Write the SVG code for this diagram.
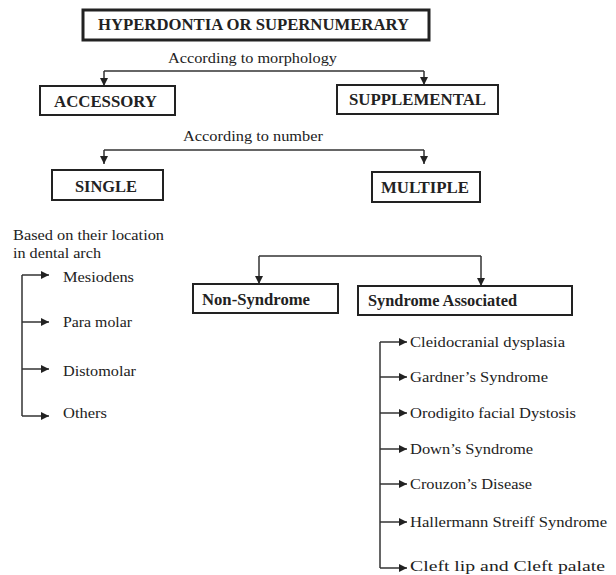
<svg xmlns="http://www.w3.org/2000/svg" width="616" height="575" viewBox="0 0 616 575">
<defs>
<marker id="ah" viewBox="0 0 10 10" refX="10" refY="5" markerWidth="9" markerHeight="8" markerUnits="userSpaceOnUse" orient="auto">
<path d="M0,0 L10,5 L0,10 z" fill="#222"/>
</marker>
</defs>
<style>
text{fill:#222}
.box{fill:#fff;stroke:#222;stroke-width:2}
.main{fill:#fff;stroke:#222;stroke-width:3}
.b{font-weight:bold;font-size:16px}
.lbl{font-size:15px}
.it{font-size:15px}
.con{fill:none;stroke:#333;stroke-width:1.5;marker-end:url(#ah)}
.con0{fill:none;stroke:#333;stroke-width:1.5}
</style>
<rect width="616" height="575" fill="#fff"/>
<g id="connectors">
<path class="con0" d="M104,71 H424"/>
<path class="con" d="M104,71 V86"/>
<path class="con" d="M424,71 V85"/>
<path class="con0" d="M104,150 H424"/>
<path class="con" d="M104,150 V164"/>
<path class="con" d="M424,150 V164"/>
<path class="con0" d="M259,256 H481"/>
<path class="con" d="M259,256 V284"/>
<path class="con" d="M481,256 V286"/>
<path class="con0" d="M22,275 V416"/>
<path class="con" d="M22,275 H49"/>
<path class="con" d="M22,322 H49"/>
<path class="con" d="M22,369 H49"/>
<path class="con" d="M22,416 H49"/>
<path class="con0" d="M380,342 V568"/>
<path class="con" d="M380,342 H407"/>
<path class="con" d="M380,377 H407"/>
<path class="con" d="M380,413 H407"/>
<path class="con" d="M380,449 H407"/>
<path class="con" d="M380,484 H407"/>
<path class="con" d="M380,522 H407"/>
<path class="con" d="M380,568 H407"/>
</g>
<g font-family="'Liberation Serif', 'Times New Roman', 'DejaVu Serif', serif">
<g id="n-hyper"><rect class="main" x="83" y="10" width="346" height="30"/><text class="b" x="98" y="30" textLength="311" lengthAdjust="spacingAndGlyphs">HYPERDONTIA OR SUPERNUMERARY</text></g>
<g id="l-morph"><text class="lbl" x="168" y="63" textLength="169" lengthAdjust="spacingAndGlyphs">According to morphology</text></g>
<g id="n-accessory"><rect class="box" x="40" y="86" width="135" height="29"/><text class="b" x="54" y="107" textLength="103" lengthAdjust="spacingAndGlyphs">ACCESSORY</text></g>
<g id="n-supplemental"><rect class="box" x="337" y="85" width="161" height="29"/><text class="b" x="349" y="105" textLength="137" lengthAdjust="spacingAndGlyphs">SUPPLEMENTAL</text></g>
<g id="l-number"><text class="lbl" x="183" y="141" textLength="140" lengthAdjust="spacingAndGlyphs">According to number</text></g>
<g id="n-single"><rect class="box" x="52" y="170" width="111" height="30"/><text class="b" x="75" y="192" textLength="62" lengthAdjust="spacingAndGlyphs">SINGLE</text></g>
<g id="n-multiple"><rect class="box" x="372" y="172" width="108" height="30"/><text class="b" x="381" y="193" textLength="88" lengthAdjust="spacingAndGlyphs">MULTIPLE</text></g>
<g id="l-location"><text class="it" x="13" y="240" textLength="151" lengthAdjust="spacingAndGlyphs">Based on their location</text><text class="it" x="13" y="258" textLength="88" lengthAdjust="spacingAndGlyphs">in dental arch</text></g>
<g id="n-mesiodens"><text class="it" x="63" y="282" textLength="71" lengthAdjust="spacingAndGlyphs">Mesiodens</text></g>
<g id="n-paramolar"><text class="it" x="63" y="327" textLength="69" lengthAdjust="spacingAndGlyphs">Para molar</text></g>
<g id="n-distomolar"><text class="it" x="63" y="376" textLength="73" lengthAdjust="spacingAndGlyphs">Distomolar</text></g>
<g id="n-others"><text class="it" x="63" y="418" textLength="44" lengthAdjust="spacingAndGlyphs">Others</text></g>
<g id="n-nonsyndrome"><rect class="box" x="193" y="284" width="145" height="29"/><text class="b" x="202" y="305" textLength="108" lengthAdjust="spacingAndGlyphs">Non-Syndrome</text></g>
<g id="n-syndrome"><rect class="box" x="358" y="286" width="214" height="29"/><text class="b" x="368" y="306" textLength="149" lengthAdjust="spacingAndGlyphs">Syndrome Associated</text></g>
<g id="n-cleido"><text class="it" x="410" y="347" textLength="155" lengthAdjust="spacingAndGlyphs">Cleidocranial dysplasia</text></g>
<g id="n-gardner"><text class="it" x="410" y="382" textLength="138" lengthAdjust="spacingAndGlyphs">Gardner’s Syndrome</text></g>
<g id="n-orodigito"><text class="it" x="410" y="418" textLength="166" lengthAdjust="spacingAndGlyphs">Orodigito facial Dystosis</text></g>
<g id="n-down"><text class="it" x="410" y="454" textLength="123" lengthAdjust="spacingAndGlyphs">Down’s Syndrome</text></g>
<g id="n-crouzon"><text class="it" x="410" y="489" textLength="122" lengthAdjust="spacingAndGlyphs">Crouzon’s Disease</text></g>
<g id="n-hallermann"><text class="it" x="410" y="527" textLength="197" lengthAdjust="spacingAndGlyphs">Hallermann Streiff Syndrome</text></g>
<g id="n-cleft"><text class="it" x="410" y="571" textLength="195" lengthAdjust="spacingAndGlyphs">Cleft lip and Cleft palate</text></g>
</g>
</svg>
